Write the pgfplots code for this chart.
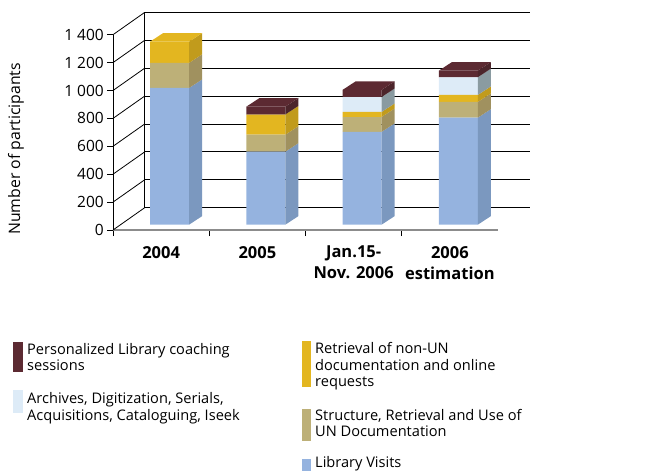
\documentclass[border=0pt]{standalone}
\usepackage{pgfplots}
\pgfplotsset{compat=1.18}
\usepackage{fontspec}
\setmainfont{Open Sans}
\definecolor{visF}{HTML}{95B3DF}
\definecolor{visS}{HTML}{7B98BF}
\definecolor{strF}{HTML}{BDB078}
\definecolor{strS}{HTML}{A0915F}
\definecolor{retF}{HTML}{E3B620}
\definecolor{retS}{HTML}{C19B1C}
\definecolor{arcF}{HTML}{DDEBF7}
\definecolor{arcS}{HTML}{8A9BA1}
\definecolor{perF}{HTML}{5C2A32}
\definecolor{perS}{HTML}{4C252B}
\definecolor{axgray}{HTML}{8C8C8C}
\newcommand\sideface[4]{%
  \pgfmathsetmacro\xa{#2+0.2026}%
  \pgfmathsetmacro\xb{#2+0.3377}%
  \pgfmathsetmacro\yhb{#4+61}%
  \pgfmathsetmacro\ylb{#3+61}%
  \addplot[fill=#1, draw=none] coordinates {(\xa,#3) (\xb,\ylb) (\xb,\yhb) (\xa,#4)} -- cycle;
}
\newcommand\topface[3]{%
  \pgfmathsetmacro\xa{#2-0.2026}%
  \pgfmathsetmacro\xb{#2+0.2026}%
  \pgfmathsetmacro\xc{#2+0.3377}%
  \pgfmathsetmacro\xd{#2-0.0675}%
  \pgfmathsetmacro\yb{#3+61}%
  \addplot[fill=#1, draw=none] coordinates {(\xa,#3) (\xb,#3) (\xc,\yb) (\xd,\yb)} -- cycle;
}
\newcommand\lgfont{\fontsize{14.6}{16.7}\selectfont}
\begin{document}
\begin{tikzpicture}[x=1pt,y=1pt]
% ---------- front axis with back wall ----------
\begin{axis}[
  at={(113pt,-230pt)}, anchor=south west,
  scale only axis, width=385pt, height=195.3pt,
  xmin=-0.5, xmax=3.5, ymin=0, ymax=1400,
  clip=false,
  axis x line*=bottom, axis y line*=left,
  x axis line style={-, draw=axgray, line width=1.6pt},
  y axis line style={-, draw=black, line width=0.8pt},
  tick align=outside,
  major tick length=6pt,
  tick style={draw=black, line width=0.8pt},
  ytick={0,200,...,1400},
  xtick={-0.5,0.5,1.5,2.5},
  xticklabels={},
  extra x ticks={0,1,2,3},
  extra x tick labels={2004,2005,{Jan.15-\\Nov. 2006},{2006\\estimation}},
  extra x tick style={major tick length=0pt, tick style={draw=none},
    xticklabel style={font=\fontsize{16.5}{21}\selectfont\bfseries, align=center, inner sep=0pt, yshift=-16pt}},
  yticklabel style={font=\fontsize{15.5}{18}\selectfont, inner sep=0pt, xshift=-3pt},
  /pgf/number format/assume math mode=true,
  /pgf/number format/1000 sep={\ },
  ylabel={}, xlabel={},
]
% back wall gridlines
\draw[black, line width=0.8pt] (axis cs:-0.1706,160) -- (axis cs:3.8294,160);
\draw[black, line width=0.8pt] (axis cs:-0.1706,360) -- (axis cs:3.8294,360);
\draw[black, line width=0.8pt] (axis cs:-0.1706,560) -- (axis cs:3.8294,560);
\draw[black, line width=0.8pt] (axis cs:-0.1706,760) -- (axis cs:3.8294,760);
\draw[black, line width=0.8pt] (axis cs:-0.1706,960) -- (axis cs:3.8294,960);
\draw[black, line width=0.8pt] (axis cs:-0.1706,1160) -- (axis cs:3.8294,1160);
\draw[black, line width=0.8pt] (axis cs:-0.1706,1360) -- (axis cs:3.8294,1360);
\draw[black, line width=0.8pt] (axis cs:-0.1706,1560) -- (axis cs:3.8294,1560);
\draw[black, line width=0.8pt] (axis cs:-0.1706,160) -- (axis cs:-0.1706,1560);
% diagonals
\draw[black, line width=0.8pt] (axis cs:-0.5,0) -- (axis cs:-0.1706,160);
\draw[black, line width=0.8pt] (axis cs:-0.5,200) -- (axis cs:-0.1706,360);
\draw[black, line width=0.8pt] (axis cs:-0.5,400) -- (axis cs:-0.1706,560);
\draw[black, line width=0.8pt] (axis cs:-0.5,600) -- (axis cs:-0.1706,760);
\draw[black, line width=0.8pt] (axis cs:-0.5,800) -- (axis cs:-0.1706,960);
\draw[black, line width=0.8pt] (axis cs:-0.5,1000) -- (axis cs:-0.1706,1160);
\draw[black, line width=0.8pt] (axis cs:-0.5,1200) -- (axis cs:-0.1706,1360);
\draw[black, line width=0.8pt] (axis cs:-0.5,1400) -- (axis cs:-0.1706,1560);
\end{axis}
% ---------- front faces of the stacked bars ----------
\begin{axis}[
  at={(121.4pt,-224.7pt)}, anchor=south west,
  scale only axis, width=385pt, height=195.3pt,
  xmin=-0.5, xmax=3.5, ymin=0, ymax=1400,
  hide axis, clip=false,
  ybar stacked, bar width=39pt,
]
\addplot[fill=visF, draw=none] coordinates {(0,980) (1,523) (2,665) (3,767)};
\addplot[fill=strF, draw=none] coordinates {(0,180) (1,122) (2,107) (3,113)};
\addplot[fill=retF, draw=none] coordinates {(0,152) (1,145) (2,36) (3,50)};
\addplot[fill=arcF, draw=none] coordinates {(0,0) (1,0) (2,107) (3,127)};
\addplot[fill=perF, draw=none] coordinates {(0,0) (1,56) (2,51) (3,47)};
\end{axis}
% ---------- side and top faces ----------
\begin{axis}[
  at={(121.4pt,-224.7pt)}, anchor=south west,
  scale only axis, width=385pt, height=195.3pt,
  xmin=-0.5, xmax=3.5, ymin=0, ymax=1400,
  hide axis, clip=false,
]
\sideface{visS}{0}{0}{980}
\sideface{strS}{0}{980}{1160}
\sideface{retS}{0}{1160}{1312}
\topface{retF}{0}{1312}
\sideface{visS}{1}{0}{523}
\sideface{strS}{1}{523}{645}
\sideface{retS}{1}{645}{790}
\sideface{perS}{1}{790}{846}
\topface{perF}{1}{846}
\sideface{visS}{2}{0}{665}
\sideface{strS}{2}{665}{772}
\sideface{retS}{2}{772}{808}
\sideface{arcS}{2}{808}{915}
\sideface{perS}{2}{915}{966}
\topface{perF}{2}{966}
\sideface{visS}{3}{0}{767}
\sideface{strS}{3}{767}{880}
\sideface{retS}{3}{880}{930}
\sideface{arcS}{3}{930}{1057}
\sideface{perS}{3}{1057}{1104}
\topface{perF}{3}{1104}
\end{axis}
% ---------- y label ----------
\node[rotate=90, font=\fontsize{15.8}{18}\selectfont] at (16pt,-149pt) {Number of participants};
% ---------- legend ----------
\fill[perF] (13pt,-342pt) rectangle (23pt,-372pt);
\node[anchor=base west, inner sep=0pt, font=\lgfont] at (27pt,-354pt) {Personalized Library coaching};
\node[anchor=base west, inner sep=0pt, font=\lgfont] at (27pt,-370.7pt) {sessions};
\fill[arcF] (13pt,-390pt) rectangle (23pt,-413.3pt);
\node[anchor=base west, inner sep=0pt, font=\lgfont] at (27pt,-403.3pt) {Archives, Digitization, Serials,};
\node[anchor=base west, inner sep=0pt, font=\lgfont] at (27pt,-420pt) {Acquisitions, Cataloguing, Iseek};
\fill[retF] (301.7pt,-341pt) rectangle (311pt,-386.7pt);
\node[anchor=base west, inner sep=0pt, font=\lgfont] at (315pt,-353.3pt) {Retrieval of non-UN};
\node[anchor=base west, inner sep=0pt, font=\lgfont] at (315pt,-370pt) {documentation and online};
\node[anchor=base west, inner sep=0pt, font=\lgfont] at (315pt,-386.7pt) {requests};
\fill[strF] (301.7pt,-409.3pt) rectangle (311pt,-440.7pt);
\node[anchor=base west, inner sep=0pt, font=\lgfont] at (315pt,-420pt) {Structure, Retrieval and Use of};
\node[anchor=base west, inner sep=0pt, font=\lgfont] at (315pt,-436.7pt) {UN Documentation};
\fill[visF] (301.7pt,-459.3pt) rectangle (311pt,-471pt);
\node[anchor=base west, inner sep=0pt, font=\lgfont] at (315pt,-467.5pt) {Library Visits};
\pgfresetboundingbox
\path[use as bounding box] (0pt,0pt) rectangle (650pt,-472pt);
\end{tikzpicture}
\end{document}
